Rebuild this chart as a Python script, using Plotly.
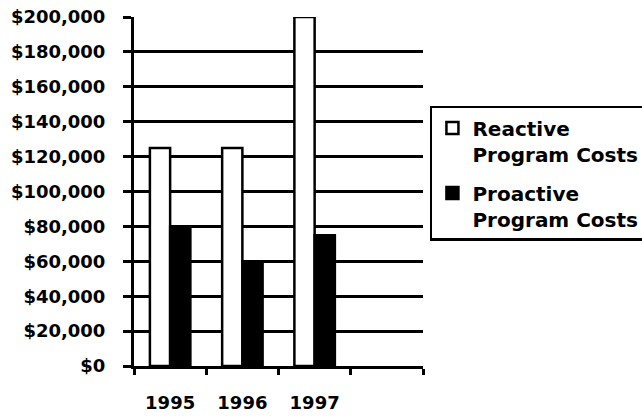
import plotly.graph_objects as go

years = ["1995", "1996", "1997"]
reactive = [125000, 125000, 200000]
proactive = [80000, 60000, 75000]
series_names = ["Reactive<br>Program Costs", "Proactive<br>Program Costs"]
y_ticks = [0, 20000, 40000, 60000, 80000, 100000, 120000, 140000, 160000, 180000, 200000]
y_tick_labels = ["$0", "$20,000", "$40,000", "$60,000", "$80,000", "$100,000",
                 "$120,000", "$140,000", "$160,000", "$180,000", "$200,000"]

FONT = "DejaVu Sans"

fig = go.Figure()
fig.add_trace(go.Bar(
    x=years, y=reactive, name=series_names[0], legendgroup="reactive",
    marker=dict(color="white", line=dict(color="black", width=2.5)),
))
fig.add_trace(go.Bar(
    x=years, y=proactive, name=series_names[1], legendgroup="proactive",
    marker=dict(color="black", line=dict(color="black", width=2.5)),
))

fig.update_layout(
    width=642, height=416,
    margin=dict(l=134, r=219, t=17, b=50, autoexpand=False),
    paper_bgcolor="white", plot_bgcolor="white",
    font=dict(family=FONT, size=18, color="black", weight="bold"),
    barmode="group", bargap=0.44, bargroupgap=0.0,
    showlegend=True,
    legend=dict(
        x=1.024, y=0.745, xanchor="left", yanchor="top",
        bordercolor="black", borderwidth=2.5, bgcolor="white",
        font=dict(family=FONT, size=20, color="black", weight="bold"),
        valign="top", tracegroupgap=10,
    ),
    xaxis=dict(
        type="category",
        categoryorder="array", categoryarray=years + [" "],
        range=[-0.5, 3.5],
        showline=True, linecolor="black", linewidth=3,
        ticks="outside", tickson="boundaries", ticklen=6, tickwidth=2.5, tickcolor="black",
        ticklabelstandoff=18,
        showgrid=False, zeroline=False, fixedrange=True,
        tickfont=dict(family=FONT, size=18, color="black", weight="bold"),
    ),
    yaxis=dict(
        range=[0, 200000],
        tickvals=y_ticks, ticktext=y_tick_labels,
        showline=True, linecolor="black", linewidth=3,
        ticks="outside", ticklen=8, tickwidth=2.5, tickcolor="black",
        ticklabelstandoff=14,
        showgrid=True, gridcolor="black", gridwidth=2.5,
        zeroline=False, fixedrange=True,
        tickfont=dict(family=FONT, size=18, color="black", weight="bold"),
    ),
)

fig.write_html("out.html", config={"displayModeBar": False},
               post_script="document.body.style.margin='0';")
